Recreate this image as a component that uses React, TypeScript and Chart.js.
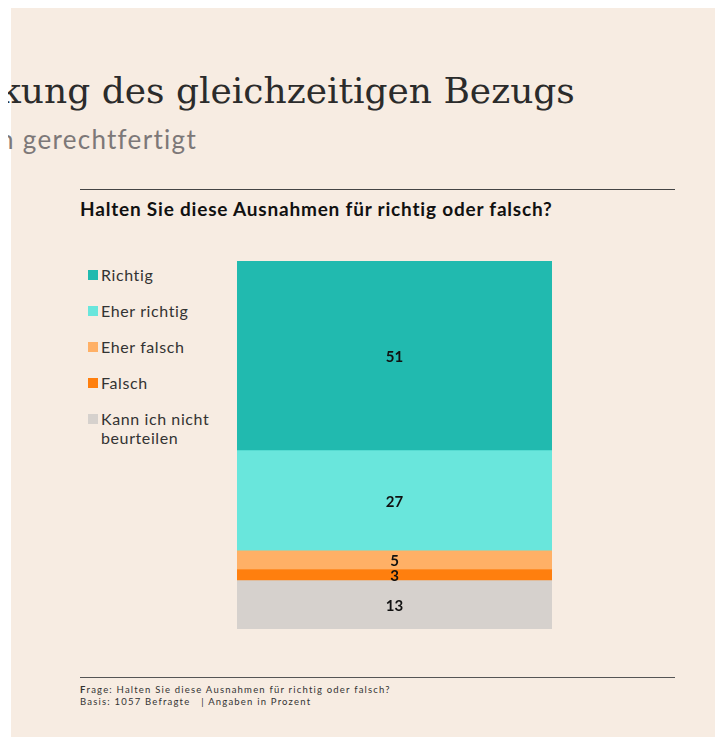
import React, { useEffect, useRef } from "react";
import { Chart, registerables } from "chart.js";

Chart.register(...registerables);

// ---- data ----
const categories = ["Richtig", "Eher richtig", "Eher falsch", "Falsch", "Kann ich nicht beurteilen"];
const legendLines = [["Richtig"], ["Eher richtig"], ["Eher falsch"], ["Falsch"], ["Kann ich nicht", "beurteilen"]];
const values = [51, 27, 5, 3, 13];
const colors = ["#21BAAF", "#69E6DC", "#FFB066", "#FF7F0E", "#D6D1CD"];
const barLabel = ["Ausnahmen"];

const titleText = "kung des gleichzeitigen Bezugs";
const subtitleText = "n gerechtfertigt";
const questionText = "Halten Sie diese Ausnahmen für richtig oder falsch?";
const footerQuestion = "rage: Halten Sie diese Ausnahmen für richtig oder falsch?";
const footerBasis = "Basis: 1057 Befragte   | Angaben in Prozent";

const total = values.reduce((a, b) => a + b, 0);

const labelPlugin = {
  id: "segLabels",
  afterDatasetsDraw(chart: any) {
    const ctx = chart.ctx;
    ctx.save();
    ctx.font = "bold 15px Lato";
    ctx.fillStyle = "#111111";
    ctx.textAlign = "center";
    ctx.textBaseline = "middle";
    chart.data.datasets.forEach((ds: any, i: number) => {
      const meta = chart.getDatasetMeta(i);
      meta.data.forEach((el: any, j: number) => {
        const v = ds.data[j];
        const cy = (el.y + el.base) / 2;
        ctx.fillText(String(v), el.x, cy + 1);
      });
    });
    ctx.restore();
  },
};

export default function App() {
  const ref = useRef<HTMLCanvasElement | null>(null);

  useEffect(() => {
    if (!ref.current) return;
    // stack bottom-up: last category at the bottom
    const order = categories.map((_, i) => i).reverse();
    const chart = new Chart(ref.current, {
      type: "bar",
      data: {
        labels: barLabel,
        datasets: order.map((i) => ({
          label: categories[i],
          data: [values[i]],
          backgroundColor: colors[i],
          borderWidth: 0,
          barPercentage: 1,
          categoryPercentage: 1,
        })),
      },
      options: {
        responsive: false,
        animation: false,
        layout: { padding: 0 },
        plugins: { legend: { display: false }, tooltip: { enabled: false } },
        scales: {
          x: { stacked: true, display: false },
          y: { stacked: true, display: false, min: 0, max: total },
        },
      },
      plugins: [labelPlugin],
    });
    return () => chart.destroy();
  }, []);

  return (
    <div style={{ position: "relative", width: 715, height: 730, fontFamily: "Lato" }}>
      <div style={{ position: "absolute", left: 3, top: 0, width: 712, height: 729, background: "#F7ECE2" }} />
      <div
        style={{
          position: "absolute",
          left: -9,
          top: 65,
          fontFamily: "DejaVu Serif",
          fontSize: 36,
          lineHeight: "36px",
          color: "#2b2b2b",
          whiteSpace: "nowrap",
        }}
      >
        {titleText}
      </div>
      <div
        style={{
          position: "absolute",
          left: -9,
          top: 118,
          fontFamily: "Lato",
          fontSize: 26,
          lineHeight: "26px",
          letterSpacing: 1.3,
          color: "#7d7878",
          whiteSpace: "nowrap",
        }}
      >
        {subtitleText}
      </div>
      <div style={{ position: "absolute", left: 72, top: 181, width: 595, height: 1, background: "#444" }} />
      <div
        style={{
          position: "absolute",
          left: 72,
          top: 191,
          fontSize: 19,
          lineHeight: "19px",
          letterSpacing: 0.8,
          fontWeight: 700,
          color: "#111",
          whiteSpace: "nowrap",
        }}
      >
        {questionText}
      </div>
      <div style={{ position: "absolute", left: 80, top: 257 }}>
        {legendLines.map((lines, i) => (
          <div
            key={i}
            style={{ position: "relative", paddingLeft: 13, marginBottom: 17, fontSize: 16, lineHeight: "19px", letterSpacing: 0.6, color: "#333" }}
          >
            <span style={{ position: "absolute", left: 0, top: 5, width: 10, height: 10, background: colors[i] }} />
            {lines.map((l, k) => (
              <div key={k} style={{ whiteSpace: "nowrap" }}>{l}</div>
            ))}
          </div>
        ))}
      </div>
      <canvas ref={ref} width={315} height={368} style={{ position: "absolute", left: 229, top: 253, width: 315, height: 368 }} />
      <div style={{ position: "absolute", left: 72, top: 669, width: 595, height: 1, background: "#555" }} />
      <div style={{ position: "absolute", left: 72, top: 676, fontSize: 9.5, lineHeight: "12px", color: "#333", letterSpacing: 1.2, whiteSpace: "pre" }}>
        <div><b>F</b>{footerQuestion}</div>
        <div>{footerBasis}</div>
      </div>
    </div>
  );
}
